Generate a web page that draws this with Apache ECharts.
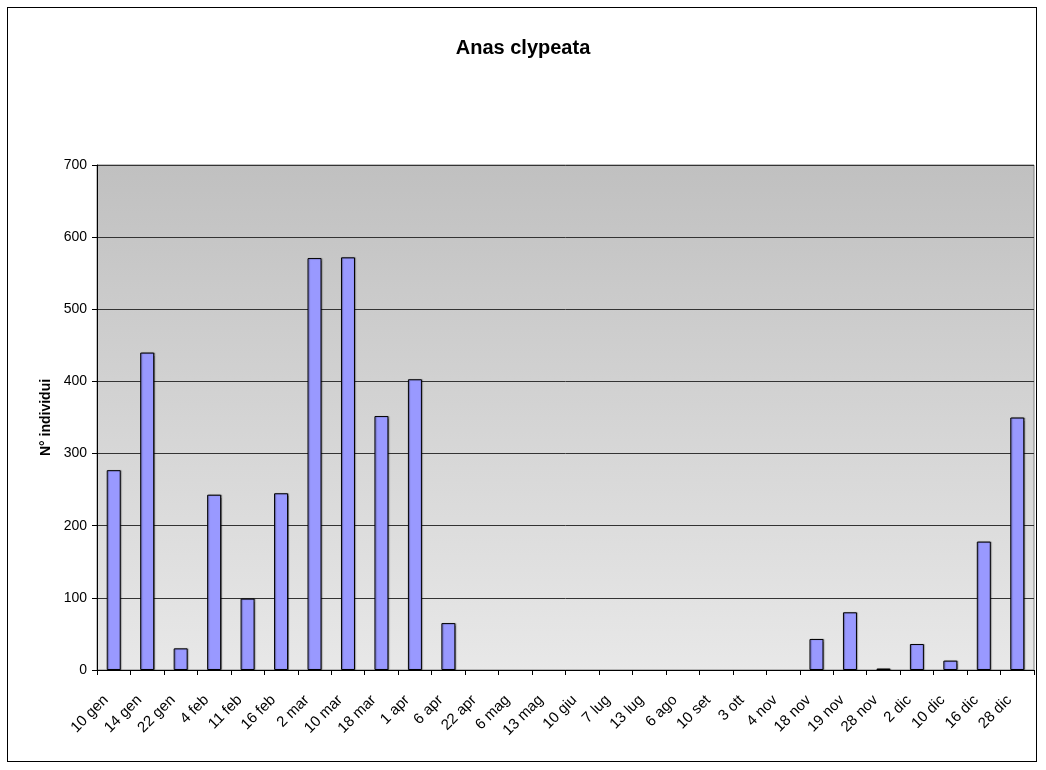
<!DOCTYPE html>
<html>
<head>
<meta charset="utf-8">
<script src="https://cdn.jsdelivr.net/npm/echarts@6/dist/echarts.min.js"></script>
<style>
html, body { margin: 0; padding: 0; background: #fff; }
#frame { position: absolute; left: 7px; top: 7px; width: 1030px; height: 755px; border: 1px solid #000; box-sizing: border-box; }
#chart { position: absolute; left: 0; top: 0; width: 1046px; height: 770px; }
</style>
</head>
<body>
<div id="frame"></div>
<div id="chart"></div>
<script>
// date di rilevamento
var dates = ['10 gen', '14 gen', '22 gen', '4 feb', '11 feb', '16 feb', '2 mar', '10 mar',
	'18 mar', '1 apr', '6 apr', '22 apr', '6 mag', '13 mag', '10 giu', '7 lug', '13 lug',
	'6 ago', '10 set', '3 ott', '4 nov', '18 nov', '19 nov', '28 nov', '2 dic', '10 dic',
	'16 dic', '28 dic'];
// numero individui
var individui = [277, 440, 30, 243, 99, 245, 571, 572, 352, 403, 65, 0, 0, 0, 0, 0, 0,
	0, 0, 0, 0, 43, 80, 2, 36, 13, 178, 350];
var yTicks = [0, 100, 200, 300, 400, 500, 600, 700];

var myChart = echarts.init(document.getElementById('chart'));
// le barre a zero non si vedono
var barData = individui.map(function(v) {
	return v === 0 ? { value : v, itemStyle : { borderWidth : 0, opacity : 0 } } : v;
});
var option = {
	animation : false,
	title : {
		text : 'Anas clypeata',
		left : 'center',
		top : 33,
		textStyle : {
			fontFamily : 'Liberation Sans, Arial',
			fontSize : 20,
			fontWeight : 'bold',
			color : '#000'
		}
	},
	grid : {
		left : 97,
		right : 12,
		top : 165,
		bottom : 100
	},
	xAxis : {
		type : 'category',
		data : dates,
		boundaryGap : true,
		axisLine : { lineStyle : { color : '#000', width : 1 } },
		axisTick : { show : true, length : 5, lineStyle : { color : '#000' } },
		axisLabel : {
			rotate : 45,
			interval : 0,
			margin : 20,
			padding : [0, 11, 0, 0],
			fontFamily : 'Liberation Sans, Arial',
			fontSize : 15,
			color : '#000'
		}
	},
	yAxis : {
		type : 'value',
		min : yTicks[0],
		max : yTicks[yTicks.length - 1],
		interval : 100,
		name : 'N° individui',
		nameLocation : 'middle',
		nameGap : 44,
		nameTextStyle : {
			fontFamily : 'Liberation Sans, Arial',
			fontSize : 14,
			fontWeight : 'bold',
			color : '#000'
		},
		axisLine : { show : true, lineStyle : { color : '#000' } },
		axisTick : { show : true, length : 5, lineStyle : { color : '#000' } },
		axisLabel : {
			margin : 10,
			fontFamily : 'Liberation Sans, Arial',
			fontSize : 14,
			color : '#000'
		},
		splitLine : { show : true, lineStyle : { color : '#333', width : 1 } },
		splitArea : { show : false }
	},
	series : [ {
		name : 'N° individui',
		type : 'bar',
		data : barData,
		barWidth : 14,
		itemStyle : {
			color : '#9999ff',
			borderColor : '#000',
			borderWidth : 1,
			shadowColor : 'rgba(0,0,0,0.35)',
			shadowOffsetX : 1,
			shadowOffsetY : 0,
			shadowBlur : 1
		}
	} ]
};
myChart.setOption(option);

// sfondo sfumato dell'area del grafico
var gridRect = myChart.getModel().getComponent('grid').coordinateSystem.getRect();
myChart.setOption({
	graphic : [ {
		type : 'rect',
		z : -10,
		silent : true,
		shape : { x : gridRect.x, y : gridRect.y, width : gridRect.width, height : gridRect.height },
		style : {
			fill : new echarts.graphic.LinearGradient(0, 0, 0, 1, [
				{ offset : 0, color : '#c0c0c0' },
				{ offset : 1, color : '#e8e8e8' }
			]),
			stroke : '#808080',
			lineWidth : 1
		}
	} ]
});
</script>
</body>
</html>
